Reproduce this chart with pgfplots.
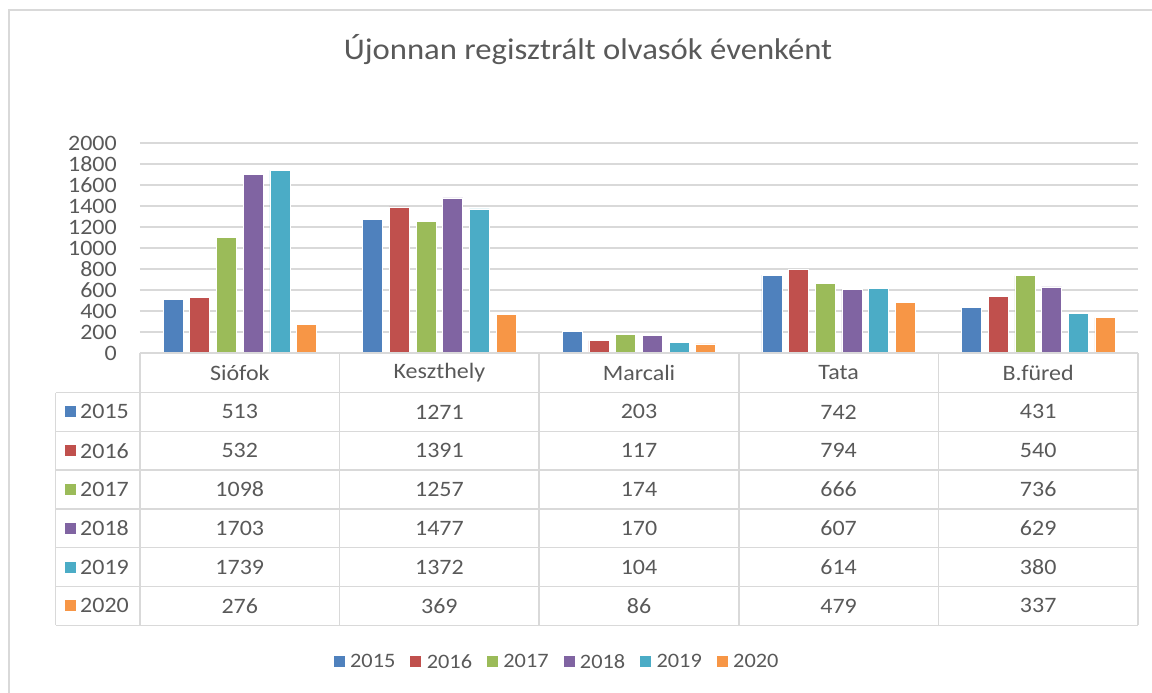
\documentclass[border=0pt]{standalone}
\usepackage{pgfplots}
\usepackage{pgfplotstable}
\pgfplotsset{compat=1.18}
\usepackage{fontspec}
\setmainfont{Carlito}[FakeStretch=1.09]
\definecolor{c2015}{HTML}{4F81BD}
\definecolor{c2016}{HTML}{C0504D}
\definecolor{c2017}{HTML}{9BBB59}
\definecolor{c2018}{HTML}{8064A2}
\definecolor{c2019}{HTML}{4BACC6}
\definecolor{c2020}{HTML}{F79646}
\definecolor{gridgray}{HTML}{D9D9D9}
\definecolor{textgray}{HTML}{595959}

\pgfplotstableread{
x v2015 v2016 v2017 v2018 v2019 v2020
0 513 532 1098 1703 1739 276
1 1271 1391 1257 1477 1372 369
2 203 117 174 170 104 86
3 742 794 666 607 614 479
4 431 540 736 629 380 337
}\datatable

\begin{document}
\begin{tikzpicture}
\path[use as bounding box] (0pt,0pt) rectangle (1152pt,-693pt);
\draw[gridgray, line width=1.2pt] (9pt,-693pt) -- (9pt,-10pt) -- (1152pt,-10pt);
\node[text=textgray, font=\fontsize{30}{36}\selectfont] at (588pt,-50pt) {Újonnan regisztrált olvasók évenként};
\begin{axis}[
  at={(140pt,-353pt)}, anchor=south west,
  scale only axis, width=998pt, height=210pt,
  xmin=-0.5, xmax=4.5, ymin=0, ymax=2000,
  ytick={0,200,...,2000}, xtick=\empty,
  ybar=6.7pt, bar width=20pt,
  axis line style={draw=none},
  major tick length=0pt,
  ymajorgrids, major grid style={gridgray, line width=1.3pt},
  /pgf/number format/assume math mode=true,
  /pgf/number format/1000 sep={},
  yticklabel style={font=\fontsize{22}{22}\selectfont, text=textgray, inner sep=0pt},
  yticklabel shift=23pt,
  legend columns=6,
  legend style={draw=none, fill=none, at={(0.417,-1.471)}, anchor=center,
    font=\fontsize{20.5}{24}\selectfont, text=textgray,
    nodes={inner sep=0pt},
    /tikz/every odd column/.append style={column sep=0pt},
    /tikz/every even column/.append style={column sep=15pt}},
  legend image code/.code={\fill[#1,draw=none] (0pt,-5.5pt) rectangle (11pt,5.5pt); \path (16pt,0pt);},
  every axis plot/.append style={draw=white, line width=0.6pt},
]
\addplot[fill=c2015] table[x=x,y=v2015] {\datatable};
\addplot[fill=c2016] table[x=x,y=v2016] {\datatable};
\addplot[fill=c2017] table[x=x,y=v2017] {\datatable};
\addplot[fill=c2018] table[x=x,y=v2018] {\datatable};
\addplot[fill=c2019] table[x=x,y=v2019] {\datatable};
\addplot[fill=c2020] table[x=x,y=v2020] {\datatable};
\legend{2015,2016,2017,2018,2019,2020}
\end{axis}
\begin{scope}[x=1pt,y=-1pt]
  % table grid
  \draw[gridgray, line width=1.5pt] (140,353) -- (1138,353);
  \draw[gridgray, line width=1.5pt] (55.7,392.5) -- (1138,392.5);
  \foreach \r in {1,...,6}{
    \draw[gridgray, line width=1.5pt] (55.7,{392.5+38.8*\r}) -- (1138,{392.5+38.8*\r});
  }
  \draw[gridgray, line width=1.5pt] (55.7,392.5) -- (55.7,625.3);
  \foreach \xx in {140,339.6,539.2,738.8,938.4,1138}{
    \draw[gridgray, line width=1.5pt] (\xx,353) -- (\xx,625.3);
  }
  % header
  \foreach \name [count=\c from 0] in {Siófok,Keszthely,Marcali,Tata,B.füred}{
    \node[text=textgray, font=\fontsize{22}{26}\selectfont] at ({239.8+199.6*\c},373) {\name};
  }
  % left column
  \foreach \y [count=\r from 0] in {2015,2016,2017,2018,2019,2020}{
    \fill[c\y] (65,{406.4+38.8*\r}) rectangle (76,{417.4+38.8*\r});
    \node[text=textgray, font=\fontsize{22}{26}\selectfont, anchor=west, inner sep=0pt] at (80,{411.9+38.8*\r}) {\y};
  }
  % values
  \foreach \c in {0,...,4}{
    \foreach \y [count=\r from 0] in {2015,2016,2017,2018,2019,2020}{
      \pgfplotstablegetelem{\c}{v\y}\of\datatable
      \node[text=textgray, font=\fontsize{22}{26}\selectfont] at ({239.8+199.6*\c},{411.9+38.8*\r}) {\pgfplotsretval};
    }
  }
\end{scope}
\end{tikzpicture}
\end{document}
